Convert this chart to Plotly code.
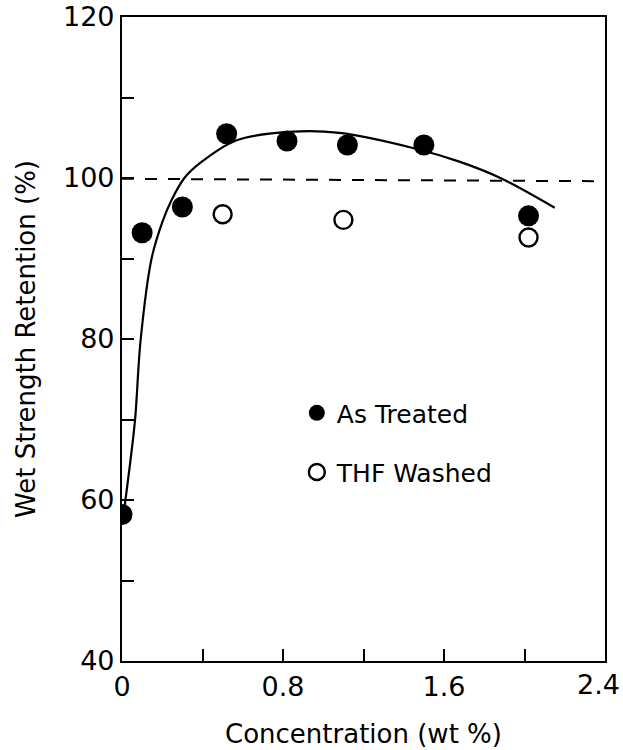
import plotly.graph_objects as go

# Data
treated_x = [0.0, 0.1, 0.3, 0.52, 0.82, 1.12, 1.5, 2.02]
treated_y = [58.2, 93.2, 96.4, 105.5, 104.6, 104.1, 104.1, 95.3]

washed_x = [0.5, 1.1, 2.02]
washed_y = [95.5, 94.8, 92.6]

fit_x = [0.012, 0.04, 0.065, 0.093, 0.147, 0.2, 0.247, 0.31, 0.39, 0.57, 0.85, 1.08, 1.45, 1.68, 1.88, 2.15]
fit_y = [59.0, 64.5, 70.0, 80.0, 90.0, 94.5, 97.3, 100.0, 101.9, 104.7, 105.75, 105.6, 103.7, 102.0, 100.0, 96.3]

ref_x = [0.0, 2.38]
ref_y = [99.9, 99.6]

x_ticks = [0, 0.8, 1.6, 2.4]
x_labels = ["0", "0.8", "1.6", "2.4"]
y_ticks = [40, 60, 80, 100, 120]
y_labels = ["40", "60", "80", "100", "120"]

FONT = "DejaVu Sans"
TICK_SIZE = 27

fig = go.Figure()

fig.add_trace(go.Scatter(
    x=ref_x, y=ref_y, mode="lines",
    line=dict(color="black", width=2, dash="12px,11px"),
    showlegend=False, hoverinfo="skip",
))
fig.add_trace(go.Scatter(
    x=fit_x, y=fit_y, mode="lines",
    line=dict(color="black", width=2.2, shape="spline", smoothing=1.0),
    showlegend=False, hoverinfo="skip",
))
fig.add_trace(go.Scatter(
    x=treated_x, y=treated_y, mode="markers", name="As Treated",
    marker=dict(symbol="circle", size=21, color="black"),
    legend="legend",
))
fig.add_trace(go.Scatter(
    x=washed_x, y=washed_y, mode="markers", name="THF Washed",
    marker=dict(symbol="circle-open", size=18, color="black", line=dict(width=2.4, color="black")),
    legend="legend2",
))

axis_common = dict(
    showline=True, linecolor="black", linewidth=2.2, mirror=True,
    ticks="inside", ticklen=12, tickwidth=2, tickcolor="black",
    showgrid=False, zeroline=False, automargin=False,
    tickfont=dict(family=FONT, size=TICK_SIZE, color="black"),
)

# the last x label sits at the right edge; draw it as an annotation nudged inward
x_ticktext = x_labels[:-1] + [""]

fig.update_layout(
    width=623, height=750,
    margin=dict(l=122, r=18, t=17, b=89),
    paper_bgcolor="white", plot_bgcolor="white",
    xaxis=dict(
        range=[0, 2.4], tickvals=x_ticks, ticktext=x_ticktext,
        minor=dict(dtick=0.4, tick0=0, ticks="inside", ticklen=12, tickwidth=2, tickcolor="black"),
        title=dict(text="Concentration (wt %)", font=dict(family=FONT, size=26, color="black"), standoff=24),
        **axis_common,
    ),
    yaxis=dict(
        range=[40, 120], tickvals=y_ticks, ticktext=y_labels,
        minor=dict(dtick=10, tick0=40, ticks="inside", ticklen=12, tickwidth=2, tickcolor="black"),
        title=dict(text="Wet Strength Retention (%)", font=dict(family=FONT, size=26, color="black"), standoff=20),
        **axis_common,
    ),
    legend=dict(
        x=0.362, y=0.385, xanchor="left", yanchor="middle",
        bgcolor="rgba(0,0,0,0)", font=dict(family=FONT, size=25, color="black"),
    ),
    legend2=dict(
        x=0.362, y=0.293, xanchor="left", yanchor="middle",
        bgcolor="rgba(0,0,0,0)", font=dict(family=FONT, size=25, color="black"),
    ),
    annotations=[dict(
        x=x_ticks[-1], y=0, xref="x", yref="paper",
        text=x_labels[-1], showarrow=False,
        xanchor="center", yanchor="top", xshift=-7, yshift=-6,
        font=dict(family=FONT, size=TICK_SIZE, color="black"),
    )],
)

fig.write_html("out.html")
